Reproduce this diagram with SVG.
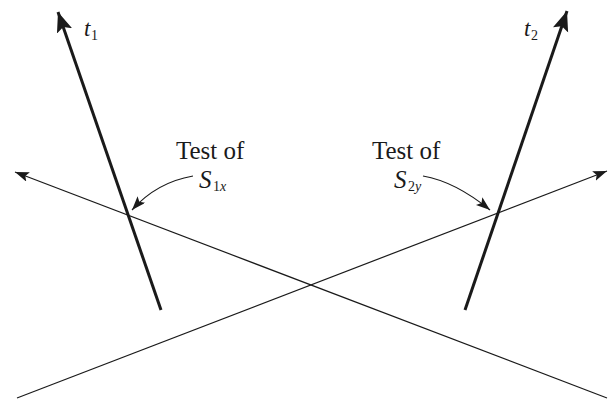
<svg xmlns="http://www.w3.org/2000/svg" width="610" height="399" viewBox="0 0 610 399">
<style>
.thick{stroke:#1a1a1a;stroke-width:3;fill:none}
.thin{stroke:#1a1a1a;stroke-width:1.2;fill:none}
text{font-family:"Liberation Serif","Times New Roman","DejaVu Serif",serif;fill:#1a1a1a}
.lbl{font-size:25px}
.sub{font-size:14px}
.it{font-style:italic}
</style>
<defs>
<marker id="big" markerUnits="userSpaceOnUse" markerWidth="22" markerHeight="18" refX="20" refY="8" orient="auto">
<path d="M0,0 L20,8 L0,16 L4,8 Z" fill="#1a1a1a"/>
</marker>
<marker id="small" markerUnits="userSpaceOnUse" markerWidth="16" markerHeight="12" refX="14" refY="5" orient="auto">
<path d="M0,0 L14,5 L0,10 L3,5 Z" fill="#1a1a1a"/>
</marker>
</defs>
<g id="connectors">
<line class="thin" x1="607" y1="398" x2="15" y2="172" marker-end="url(#small)"/>
<line class="thin" x1="17" y1="398" x2="607" y2="171" marker-end="url(#small)"/>
<path class="thin" d="M193,176 C170,180 148,192 132,210" marker-end="url(#small)"/>
<path class="thin" d="M423,176 C446,180 468,192 490,210" marker-end="url(#small)"/>
</g>
<g id="t1">
<line class="thick" x1="161" y1="310" x2="58" y2="12" marker-end="url(#big)"/>
<text class="lbl it" x="84" y="36" style="font-size:23px">t</text>
<text class="sub" x="91" y="40">1</text>
</g>
<g id="t2">
<line class="thick" x1="465" y1="310" x2="567" y2="11" marker-end="url(#big)"/>
<text class="lbl it" x="524" y="36" style="font-size:23px">t</text>
<text class="sub" x="531" y="40">2</text>
</g>
<g id="test1">
<text class="lbl" x="176" y="159">Test of</text>
<text class="lbl it" x="199" y="188">S</text>
<text class="sub" x="213" y="191">1<tspan class="it">x</tspan></text>
</g>
<g id="test2">
<text class="lbl" x="372" y="159">Test of</text>
<text class="lbl it" x="394" y="188">S</text>
<text class="sub" x="408" y="191">2<tspan class="it">y</tspan></text>
</g>
</svg>
